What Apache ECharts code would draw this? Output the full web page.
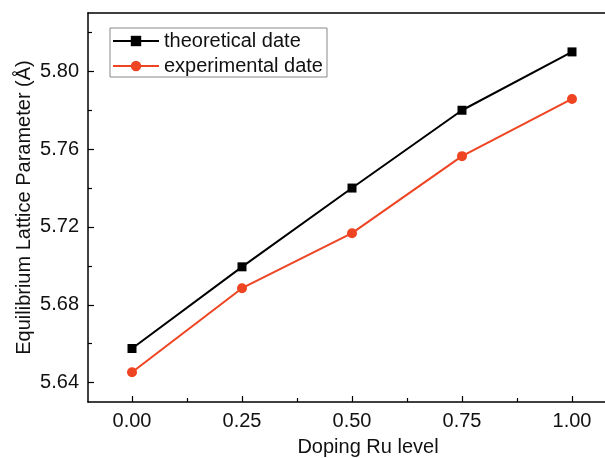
<!DOCTYPE html>
<html>
<head>
<meta charset="utf-8">
<script src="https://cdn.jsdelivr.net/npm/echarts@6/dist/echarts.min.js"></script>
<style>html,body{margin:0;padding:0;background:#fff;overflow:hidden}#c{width:605px;height:458px}</style>
</head>
<body>
<div id="c"></div>
<script>
var dopingLevels = [0.00, 0.25, 0.50, 0.75, 1.00];
var theoreticalDate = [5.6575, 5.6995, 5.740, 5.780, 5.810];
var experimentalDate = [5.6453, 5.6885, 5.7168, 5.7564, 5.7858];
var xTickValues = [0.00, 0.25, 0.50, 0.75, 1.00];
var xMinorTickValues = [0.125, 0.375, 0.625, 0.875];
var yTickValues = [5.64, 5.68, 5.72, 5.76, 5.80];
var yMinorTickValues = [5.66, 5.70, 5.74, 5.78, 5.82];
var seriesNames = ['theoretical date', 'experimental date'];

var FONT = 'Liberation Sans';
function pairs(ys){ return dopingLevels.map(function(x,i){ return [x, ys[i]]; }); }

var gridBox = {left: 88, width: 528, top: 13, height: 389, outerBoundsMode: 'none', containLabel: false, show: false};
var chart = echarts.init(document.getElementById('c'), null, {renderer:'canvas'});
chart.setOption({
  animation: false,
  backgroundColor: '#fff',
  textStyle: {fontFamily: FONT},
  grid: [Object.assign({}, gridBox), Object.assign({}, gridBox)],
  graphic: [{
    type: 'rect', right: 0, top: 15, z: 100, silent: true,
    shape: {width: 3, height: 385}, style: {fill: '#fff'}
  }],
  legend: {
    orient: 'vertical', left: 110, top: 28,
    itemWidth: 46, itemHeight: 13, itemGap: 5,
    padding: [3, 4, 1, 2],
    borderColor: '#888', borderWidth: 1,
    textStyle: {fontFamily: FONT, fontSize: 20, color: '#111'},
    data: seriesNames
  },
  xAxis: [{
    type: 'value', min: -0.1, max: 1.1, gridIndex: 0, position: 'bottom',
    name: 'Doping Ru level', nameLocation: 'middle', nameGap: 35, nameMoveOverlap: false,
    nameTextStyle: {fontFamily: FONT, fontSize: 20, color: '#111', padding: [0, 0, 0, 32]},
    axisLine: {onZero: false, lineStyle: {color: '#000', width: 1.5}},
    axisTick: {inside: true, length: 6, lineStyle: {color: '#000', width: 1.2}, customValues: xTickValues},
    axisLabel: {margin: 9, fontFamily: FONT, fontSize: 20, color: '#111', customValues: xTickValues,
      formatter: function(v){ return v.toFixed(2); }},
    splitLine: {show: false}
  }, {
    type: 'value', min: -0.1, max: 1.1, position: 'bottom', gridIndex: 1,
    axisLine: {show: false, onZero: false},
    axisTick: {inside: true, length: 4, lineStyle: {color: '#000', width: 1.2}, customValues: xMinorTickValues},
    axisLabel: {show: false},
    splitLine: {show: false}
  }, {
    type: 'value', min: -0.1, max: 1.1, position: 'top', gridIndex: 1,
    axisLine: {show: true, onZero: false, lineStyle: {color: '#000', width: 1.5}},
    axisTick: {show: false},
    axisLabel: {show: false},
    splitLine: {show: false}
  }],
  yAxis: [{
    type: 'value', min: 5.63, max: 5.83, gridIndex: 0, position: 'left',
    name: 'Equilibrium Lattice Parameter (Å)', nameLocation: 'middle', nameGap: 54, nameMoveOverlap: false,
    nameTextStyle: {fontFamily: FONT, fontSize: 20, color: '#111'},
    axisLine: {show: true, onZero: false, lineStyle: {color: '#000', width: 1.5}},
    axisTick: {show: true, inside: true, length: 6, lineStyle: {color: '#000', width: 1.2}, customValues: yTickValues},
    axisLabel: {margin: 9, fontFamily: FONT, fontSize: 20, color: '#111', customValues: yTickValues,
      formatter: function(v){ return v.toFixed(2); }},
    splitLine: {show: false}
  }, {
    type: 'value', min: 5.63, max: 5.83, position: 'left', gridIndex: 1,
    axisLine: {show: false, onZero: false},
    axisTick: {show: true, inside: true, length: 4, lineStyle: {color: '#000', width: 1.2}, customValues: yMinorTickValues},
    axisLabel: {show: false},
    splitLine: {show: false}
  }],
  series: [{
    name: seriesNames[0], type: 'line', data: pairs(theoreticalDate),
    xAxisIndex: 0, yAxisIndex: 0,
    symbol: 'rect', symbolSize: 9,
    itemStyle: {color: '#000'}, lineStyle: {color: '#000', width: 2}
  }, {
    name: seriesNames[1], type: 'line', data: pairs(experimentalDate),
    xAxisIndex: 0, yAxisIndex: 0,
    symbol: 'circle', symbolSize: 10,
    itemStyle: {color: '#EE4422'}, lineStyle: {color: '#EE4422', width: 2}
  }]
});
</script>
</body>
</html>
